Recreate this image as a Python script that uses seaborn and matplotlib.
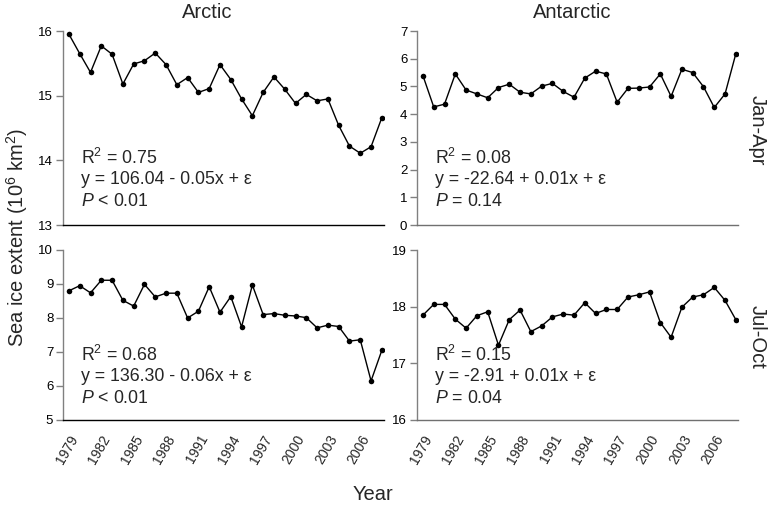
import numpy as np
import pandas as pd
import matplotlib
matplotlib.use("Agg")
import matplotlib.pyplot as plt
import seaborn as sns

years = list(range(1979, 2009))

arctic_janapr = [15.95, 15.65, 15.36, 15.77, 15.64, 15.18, 15.49, 15.54, 15.66, 15.48,
                 15.17, 15.28, 15.05, 15.11, 15.48, 15.25, 14.95, 14.69, 15.05, 15.29,
                 15.10, 14.88, 15.02, 14.92, 14.95, 14.54, 14.22, 14.11, 14.21, 14.66]
antarctic_janapr = [5.39, 4.26, 4.36, 5.45, 4.87, 4.73, 4.59, 4.96, 5.08, 4.79,
                    4.73, 5.01, 5.11, 4.82, 4.61, 5.30, 5.55, 5.45, 4.43, 4.93,
                    4.94, 4.98, 5.45, 4.64, 5.62, 5.50, 4.99, 4.24, 4.73, 6.18]
arctic_juloct = [8.80, 8.95, 8.74, 9.11, 9.11, 8.52, 8.35, 8.99, 8.62, 8.73,
                 8.73, 8.00, 8.20, 8.92, 8.17, 8.63, 7.74, 8.97, 8.10, 8.13,
                 8.08, 8.06, 8.01, 7.71, 7.79, 7.75, 7.32, 7.36, 6.15, 7.05]
antarctic_juloct = [17.85, 18.04, 18.04, 17.78, 17.62, 17.84, 17.91, 17.32, 17.77, 17.94,
                    17.56, 17.66, 17.82, 17.87, 17.85, 18.07, 17.88, 17.95, 17.95, 18.17,
                    18.21, 18.26, 17.72, 17.46, 17.99, 18.17, 18.21, 18.34, 18.11, 17.77]

columns = ["Arctic", "Antarctic"]
rows = ["Jan-Apr", "Jul-Oct"]
series = {("Jan-Apr", "Arctic"): arctic_janapr,
          ("Jan-Apr", "Antarctic"): antarctic_janapr,
          ("Jul-Oct", "Arctic"): arctic_juloct,
          ("Jul-Oct", "Antarctic"): antarctic_juloct}
ylims = {("Jan-Apr", "Arctic"): (13, 16),
         ("Jan-Apr", "Antarctic"): (0, 7),
         ("Jul-Oct", "Arctic"): (5, 10),
         ("Jul-Oct", "Antarctic"): (16, 19)}
stats = {("Jan-Apr", "Arctic"): ["R$^2$ = 0.75", "y = 106.04 - 0.05x + \u03b5", "$\\it{P}$ < 0.01"],
         ("Jan-Apr", "Antarctic"): ["R$^2$ = 0.08", "y = -22.64 + 0.01x + \u03b5", "$\\it{P}$ = 0.14"],
         ("Jul-Oct", "Arctic"): ["R$^2$ = 0.68", "y = 136.30 - 0.06x + \u03b5", "$\\it{P}$ < 0.01"],
         ("Jul-Oct", "Antarctic"): ["R$^2$ = 0.15", "y = -2.91 + 0.01x + \u03b5", "$\\it{P}$ = 0.04"]}
xtick_years = list(range(1979, 2007, 3))

records = []
for (r, c), vals in series.items():
    for yr, v in zip(years, vals):
        records.append({"season": r, "region": c, "year": yr, "extent": v})
df = pd.DataFrame(records)

sns.set_theme(style="white")
plt.rcParams['font.family'] = ['Liberation Sans', 'DejaVu Sans']
plt.rcParams['mathtext.fontset'] = 'custom'
plt.rcParams['mathtext.rm'] = 'Liberation Sans'
plt.rcParams['mathtext.it'] = 'Liberation Sans:italic'

fig = plt.figure(figsize=(7.68, 5.08), dpi=100)
W, H = 768, 508
lefts = {"Arctic": 63, "Antarctic": 417}
width = 321
tops = {"Jan-Apr": (31, 225), "Jul-Oct": (250, 420)}

for r in rows:
    for c in columns:
        t, b = tops[r]
        ax = fig.add_axes([lefts[c] / W, 1 - b / H, width / W, (b - t) / H])
        sub = df[(df.season == r) & (df.region == c)]
        sns.lineplot(data=sub, x="year", y="extent", ax=ax, color="black",
                     linewidth=1, marker="o", markersize=4, markeredgewidth=0)
        lo, hi = ylims[(r, c)]
        ax.set_ylim(lo, hi)
        ax.set_yticks(list(range(lo, hi + 1)))
        ax.set_xlim(1978.45, 2008.2)
        ax.set_xlabel("")
        ax.set_ylabel("")
        for s in ["top", "right"]:
            ax.spines[s].set_visible(False)
        ax.spines["left"].set_color("#808080")
        ax.spines["left"].set_linewidth(1.0)
        ax.spines["bottom"].set_color("black" if c == "Arctic" else "#707070")
        ax.spines["bottom"].set_linewidth(1.0)
        ax.tick_params(axis="y", left=True, length=5, width=1,
                       labelsize=9.5, pad=2, colors="black")
        ax.tick_params(axis="y", color="#808080")
        if r == "Jul-Oct":
            ax.set_xticks(xtick_years)
            ax.set_xticklabels([str(y) for y in xtick_years], rotation=60,
                               ha="right", va="top", fontsize=10,
                               rotation_mode="anchor")
            ax.tick_params(axis="x", bottom=False, length=0, pad=9)
        else:
            ax.set_xticks([])
        lines = stats[(r, c)]
        y0 = 0.345 if r == "Jan-Apr" else 0.38
        step = 21.5 / (b - t)
        for i, txt in enumerate(lines):
            ax.text(0.055, y0 - i * step, txt, transform=ax.transAxes,
                    fontsize=12.8, va="center", ha="left")

fig.text(207 / W, 1 - 13 / H, "Arctic", ha="center", va="center", fontsize=14.5)
fig.text(572 / W, 1 - 13 / H, "Antarctic", ha="center", va="center", fontsize=14.5)
fig.text(757 / W, 1 - 130 / H, "Jan-Apr", ha="center", va="center", fontsize=14.5, rotation=-90)
fig.text(757 / W, 1 - 337 / H, "Jul-Oct", ha="center", va="center", fontsize=14.5, rotation=-90)
fig.text(17 / W, 1 - 237 / H, "Sea ice extent (10$^6$ km$^2$)", ha="center", va="center",
         fontsize=14.5, rotation=90)
fig.text(373 / W, 1 - 495 / H, "Year", ha="center", va="center", fontsize=14.5)

fig.savefig("out.png", dpi=100)
